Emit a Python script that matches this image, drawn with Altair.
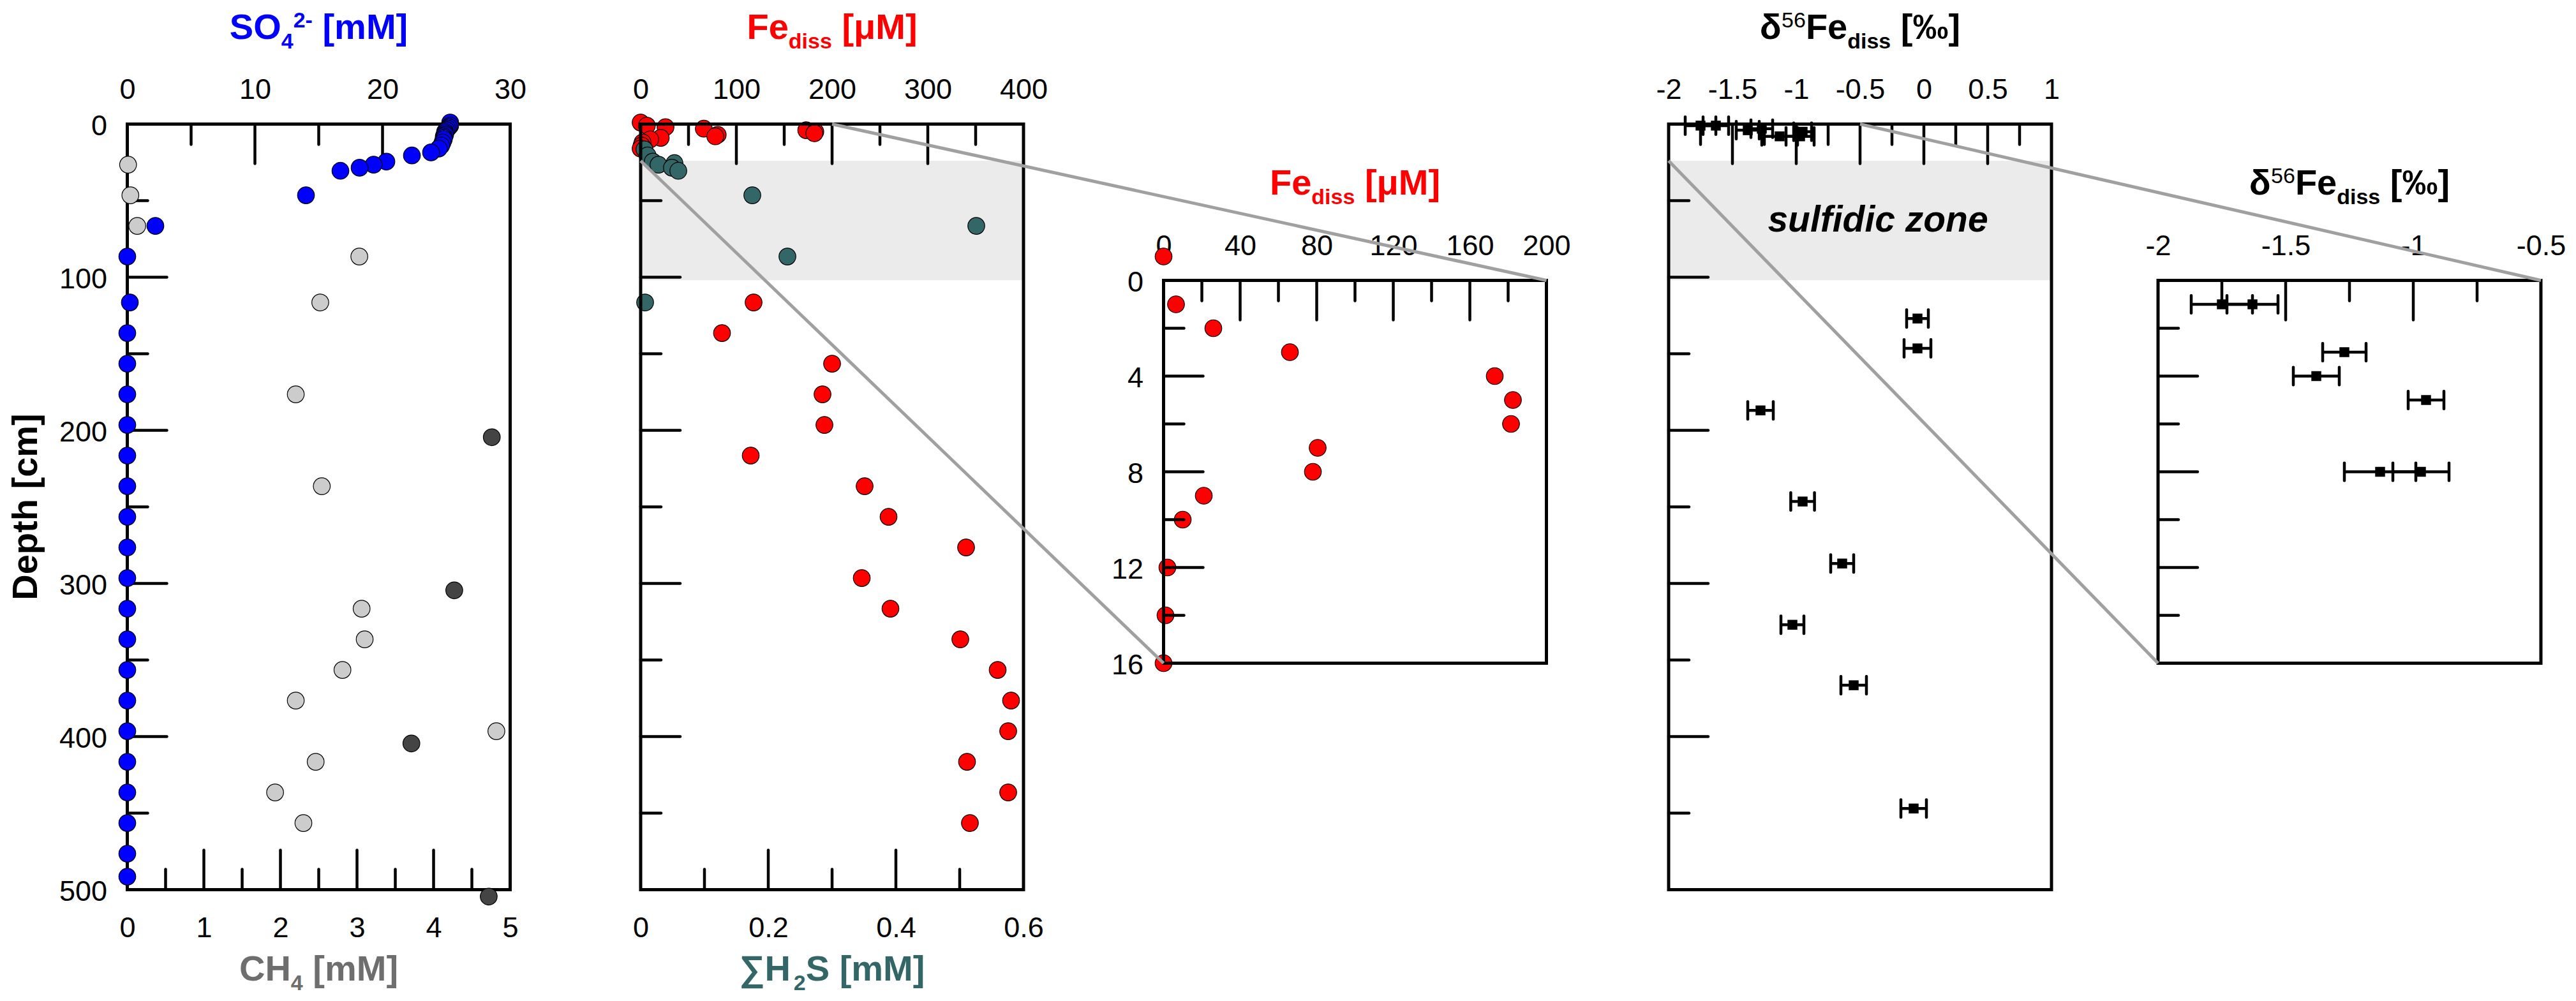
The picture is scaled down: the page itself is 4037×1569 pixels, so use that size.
import altair as alt
import pandas as pd

# ---------------- data ----------------
# Panel 1: sulfate [mM] and methane [mM] vs depth [cm]
so4_depth = [-1, 1, 2, 3, 4, 5, 6, 7, 8, 9, 10, 12, 14, 16,
             18.5, 20.5, 24.5, 26.5, 28.5, 30.5, 46.5, 66.5, 86.5,
             116.5, 136.5, 156.5, 176.5, 196.5, 216.5, 236.5, 256.5, 276.5,
             296.5, 316.5, 336.5, 356.5, 376.5, 396.5, 416.5, 436.5, 456.5,
             476.5, 491.5]
so4_mM = [25.3, 25.3, 25.2, 25.1, 25.0, 24.9, 24.9, 24.9, 24.8, 24.8, 24.8, 24.7, 24.6, 24.4,
          23.8, 22.3, 20.3, 19.3, 18.2, 16.7, 14.0, 2.2, 0.0,
          0.2, 0.0, 0.0, 0.0, 0.0, 0.0, 0.0, 0.0, 0.0,
          0.0, 0.0, 0.0, 0.0, 0.0, 0.0, 0.0, 0.0, 0.0,
          0.0, 0.0]
ch4_depth = [26.5, 46.5, 66.5, 86.5, 116.5, 176.5, 236.5, 316.5, 336.5, 356.5,
             376.5, 396.5, 416.5, 436.5, 456.5]
ch4_mM = [0.01, 0.04, 0.13, 3.03, 2.52, 2.20, 2.54, 3.06, 3.10, 2.81,
          2.20, 4.82, 2.46, 1.93, 2.30]
ch4b_depth = [204.5, 304.5, 404.5, 504.5]
ch4b_mM = [4.76, 4.27, 3.71, 4.72]

# Panel 2/3: dissolved Fe [uM] and sulfide [mM]
fe_depth = [-1, 1, 2, 3, 4, 5, 6, 7, 8, 9, 10, 12, 14, 16,
            116.5, 136.5, 156.5, 176.5, 196.5, 216.5, 236.5, 256.5, 276.5,
            296.5, 316.5, 336.5, 356.5, 376.5, 396.5, 416.5, 436.5, 456.5]
fe_uM = [0, 6.5, 26, 66, 173, 182.5, 181.5, 80.5, 78, 21, 10, 2, 1, 0,
         118, 85, 200, 190, 192, 115, 234, 259, 340,
         231, 261, 334, 373, 387, 384, 341, 384, 344]
h2s_depth = [16.5, 20.5, 24.5, 25.5, 26.5, 28.5, 30.5, 46.5, 66.5, 86.5, 116.5]
h2s_mM = [0.006, 0.011, 0.019, 0.053, 0.028, 0.049, 0.059, 0.175, 0.526, 0.230, 0.007]

# Panel 4/5: d56Fe of dissolved Fe [permil] with 2SD
d56_depth = [1, 1, 3, 4, 5, 8, 8, 127, 146.5, 187, 246.5, 287, 327, 366.5, 447]
d56_val = [-1.75, -1.63, -1.27, -1.38, -0.95, -1.13, -0.97,
           -0.05, -0.05, -1.28, -0.95, -0.64, -1.03, -0.55, -0.08]
d56_err = [0.12, 0.10, 0.085, 0.09, 0.07, 0.14, 0.11,
           0.085, 0.105, 0.10, 0.093, 0.09, 0.09, 0.10, 0.10]

zone_top = [24]
zone_bottom = [102]

# axis labels and tick values
depth_labels = [0, 100, 200, 300, 400, 500]
depth_major = [100, 200, 300, 400]
depth_minor = [50, 150, 250, 350, 450]
so4_labels = [0, 10, 20, 30]
so4_major = [10, 20]
so4_minor = [5, 15, 25]
ch4_labels = [0, 1, 2, 3, 4, 5]
ch4_major = [1, 2, 3, 4]
ch4_minor = [0.5, 1.5, 2.5, 3.5, 4.5]
fe_labels = [0, 100, 200, 300, 400]
fe_major = [100, 200, 300]
fe_minor = [50, 150, 250, 350]
h2s_labels = [0, 0.2, 0.4, 0.6]
h2s_major = [0.2, 0.4]
h2s_minor = [0.1, 0.3, 0.5]
zfe_labels = [0, 40, 80, 120, 160, 200]
zfe_major = [40, 80, 120, 160]
zfe_minor = [20, 60, 100, 140, 180]
zdepth_labels = [0, 4, 8, 12, 16]
zdepth_major = [4, 8, 12]
zdepth_minor = [2, 6, 10, 14]
d56_labels = [-2, -1.5, -1, -0.5, 0, 0.5, 1]
d56_major = [-1.5, -1, -0.5, 0, 0.5]
d56_minor = [-1.75, -1.25, -0.75, -0.25, 0.25, 0.75]
zd56_labels = [-2, -1.5, -1, -0.5]
zd56_major = [-1.5, -1]
zd56_minor = [-1.75, -1.25, -0.75]

DEPTH = [0, 500]
ZDEPTH = [0, 16]
SO4 = [0, 30]
CH4 = [0, 5]
FE = [0, 400]
H2S = [0, 0.6]
ZFE = [0, 200]
D56 = [-2, 1]
ZD56 = [-2, -0.5]

so4_df = pd.DataFrame({"depth": so4_depth, "v": so4_mM})
ch4_df = pd.DataFrame({"depth": ch4_depth, "v": ch4_mM})
ch4b_df = pd.DataFrame({"depth": ch4b_depth, "v": ch4b_mM})
fe_df = pd.DataFrame({"depth": fe_depth, "v": fe_uM})
h2s_df = pd.DataFrame({"depth": h2s_depth, "v": h2s_mM})
d56_df = pd.DataFrame({"depth": d56_depth, "val": d56_val, "err": d56_err})
zone_df = pd.DataFrame({"top": zone_top, "bottom": zone_bottom})
ONE = pd.DataFrame({"k": [0]})

# ---------------- layout ----------------
M = 8
W, H = 4037 - 2 * M, 1569 - 2 * M
FONT = "Liberation Sans"
FW = 5
TW = 4.5
MAJ, MIN = 62, 32
LFS = 45
PT = 700

PAN = {  # page pixel box of each plot area: x0, x1, y0, y1
    "p1": (199.5, 799.5, 194.5, 1394.5),
    "p2": (1004, 1604, 194.5, 1394.5),
    "p3": (1823.5, 2423.5, 439.5, 1039.5),
    "p4": (2615, 3215, 194.5, 1394.5),
    "p5": (3382, 3982, 439.5, 1039.5),
}


def box(p):
    x0, x1, y0, y1 = PAN[p]
    return x0 - M, x1 - M, y0 - M, y1 - M


def lin(v, dom, rng):
    return rng[0] + (v - dom[0]) / (dom[1] - dom[0]) * (rng[1] - rng[0])


def xscale(p, dom):
    x0, x1, _, _ = box(p)
    return alt.Scale(domain=dom, range=[x0, x1], nice=False, zero=False)


def yscale(p, dom):
    _, _, y0, y1 = box(p)
    return alt.Scale(domain=dom, range=[y0, y1], nice=False, zero=False)


def lab_axis(p, orient, values, pad):
    x0, x1, y0, y1 = box(p)
    off = {"top": -y0, "bottom": y1 - H, "left": -x0, "right": x1 - W}[orient]
    kw = dict(orient=orient, offset=off, values=values, ticks=False, domain=False,
              grid=False, labelFont=FONT, labelFontSize=LFS, labelColor="black",
              labelPadding=pad, labelFlush=False, labelOverlap=False,
              labelExpr="'' + datum.value", title=None)
    if orient in ("left", "right"):
        kw["labelOffset"] = 3
    return alt.Axis(**kw)


def tick_rules(p, side, dom, vals, length):
    x0, x1, y0, y1 = box(p)
    base = alt.Chart(pd.DataFrame({"v": vals})).mark_rule(
        color="black", strokeWidth=TW, strokeCap="round")
    if side == "left":
        return base.encode(y=alt.Y("v:Q", scale=yscale(p, dom), axis=None),
                           x=alt.value(x0), x2=alt.value(x0 + length))
    if side == "top":
        return base.encode(x=alt.X("v:Q", scale=xscale(p, dom), axis=None),
                           y=alt.value(y0), y2=alt.value(y0 + length))
    return base.encode(x=alt.X("v:Q", scale=xscale(p, dom), axis=None),
                       y=alt.value(y1 - length), y2=alt.value(y1))


def frame(p):
    x0, x1, y0, y1 = box(p)
    return alt.Chart(ONE).mark_rect(fill="transparent", stroke="black", strokeWidth=FW).encode(
        x=alt.value(x0), x2=alt.value(x1), y=alt.value(y0), y2=alt.value(y1))


def zone(p):
    x0, x1, _, _ = box(p)
    return alt.Chart(zone_df).mark_rect(fill="#EBEBEB", opacity=1).encode(
        y=alt.Y("top:Q", scale=yscale(p, DEPTH), axis=None),
        y2="bottom:Q", x=alt.value(x0), x2=alt.value(x1))


def dots(df, p, xdom, ydom, fill, xaxis=None, yaxis=None, maxdepth=None):
    c = alt.Chart(df)
    if maxdepth is not None:
        c = c.transform_filter(alt.datum.depth <= maxdepth)
    return c.mark_circle(size=PT, fill=fill, stroke="black", strokeWidth=1.2, opacity=1).encode(
        x=alt.X("v:Q", scale=xscale(p, xdom), axis=xaxis),
        y=alt.Y("depth:Q", scale=yscale(p, ydom), axis=yaxis))


def errbars(p, xdom, ydom, xaxis, maxdepth=None):
    c = alt.Chart(d56_df)
    if maxdepth is not None:
        c = c.transform_filter(alt.datum.depth <= maxdepth)
    c = c.transform_calculate(lo="datum.val - datum.err", hi="datum.val + datum.err")
    out = []
    out.append(c.mark_rule(color="black", strokeWidth=TW).encode(
        x=alt.X("lo:Q", scale=xscale(p, xdom), axis=None), x2="hi:Q",
        y=alt.Y("depth:Q", scale=yscale(p, ydom), axis=None)))
    for f in ("lo", "hi"):
        out.append(c.mark_tick(orient="vertical", size=32, thickness=TW, color="black",
                               opacity=1, cornerRadius=2).encode(
            x=alt.X(f + ":Q", scale=xscale(p, xdom), axis=None),
            y=alt.Y("depth:Q", scale=yscale(p, ydom), axis=None)))
    out.append(c.mark_square(size=240, color="black", opacity=1).encode(
        x=alt.X("val:Q", scale=xscale(p, xdom), axis=xaxis),
        y=alt.Y("depth:Q", scale=yscale(p, ydom), axis=None)))
    return out


BOLD_W = {" ": 278, "[": 333, "]": 333, "-": 333, "S": 667, "O": 778, "C": 722,
          "H": 722, "F": 611, "M": 833, "e": 556, "d": 611, "i": 278, "s": 556,
          "m": 889, "\u03bc": 611, "\u03b4": 611, "\u2030": 1000, "\u2211": 800}
REG_W = {" ": 278}


def text_layer(txt, x, y, size, color, weight="bold", align="left", style="normal", angle=0):
    return alt.Chart(ONE).mark_text(
        text=txt, font=FONT, fontSize=size, fontWeight=weight, fontStyle=style,
        color=color, align=align, baseline="alphabetic", angle=angle).encode(
        x=alt.value(x - M), y=alt.value(y - M))


def rich(pieces, cx, base, color):
    items = []
    for t, r in pieces:
        fs = 56 if r == "m" else 34
        tab = REG_W if r == "supr" else BOLD_W
        core = t.lstrip(" ")
        lead = (len(t) - len(core)) * 278 / 1000 * fs
        cw = sum(tab.get(ch, 556) for ch in core) / 1000 * fs
        items.append((core, r, fs, lead, cw))
    total = sum(i[3] + i[4] for i in items)
    x = cx - total / 2
    out = []
    for core, r, fs, lead, cw in items:
        x += lead
        dy = {"m": 0, "sub": 15, "sup": -18, "supr": -18}[r]
        out.append(text_layer(core, x, base + dy, fs, color,
                              weight="normal" if r == "supr" else "bold"))
        x += cw
    return out


layers = []

# zones
layers += [zone("p2"), zone("p4")]

# ---- panel 1 ----
layers += [frame("p1"),
           tick_rules("p1", "left", DEPTH, depth_major, MAJ),
           tick_rules("p1", "left", DEPTH, depth_minor, MIN),
           tick_rules("p1", "top", SO4, so4_major, MAJ),
           tick_rules("p1", "top", SO4, so4_minor, MIN),
           tick_rules("p1", "bottom", CH4, ch4_major, MAJ),
           tick_rules("p1", "bottom", CH4, ch4_minor, MIN)]
layers.append(dots(ch4_df, "p1", CH4, DEPTH, "#CCCCCC",
                   xaxis=lab_axis("p1", "bottom", ch4_labels, 38)))
layers.append(dots(ch4b_df, "p1", CH4, DEPTH, "#444444"))
layers.append(dots(so4_df, "p1", SO4, DEPTH, "#0000FF",
                   xaxis=lab_axis("p1", "top", so4_labels, 31),
                   yaxis=lab_axis("p1", "left", depth_labels, 32)))

# ---- panel 2 ----
layers.append(dots(fe_df, "p2", FE, DEPTH, "#FF0000",
                   xaxis=lab_axis("p2", "top", fe_labels, 31)))
layers.append(dots(h2s_df, "p2", H2S, DEPTH, "#336666",
                   xaxis=lab_axis("p2", "bottom", h2s_labels, 38)))
layers += [frame("p2"),
           tick_rules("p2", "left", DEPTH, depth_major, MAJ),
           tick_rules("p2", "left", DEPTH, depth_minor, MIN),
           tick_rules("p2", "top", FE, fe_major, MAJ),
           tick_rules("p2", "top", FE, fe_minor, MIN),
           tick_rules("p2", "bottom", H2S, h2s_major, MAJ),
           tick_rules("p2", "bottom", H2S, h2s_minor, MIN)]

# ---- panel 3 (zoom of Fe, 0-16 cm) ----
layers.append(dots(fe_df, "p3", ZFE, ZDEPTH, "#FF0000",
                   xaxis=lab_axis("p3", "top", zfe_labels, 31),
                   yaxis=lab_axis("p3", "left", zdepth_labels, 32), maxdepth=16))
layers += [frame("p3"),
           tick_rules("p3", "left", ZDEPTH, zdepth_major, MAJ),
           tick_rules("p3", "left", ZDEPTH, zdepth_minor, MIN),
           tick_rules("p3", "top", ZFE, zfe_major, MAJ),
           tick_rules("p3", "top", ZFE, zfe_minor, MIN)]

# ---- panel 4 ----
layers += [frame("p4"),
           tick_rules("p4", "left", DEPTH, depth_major, MAJ),
           tick_rules("p4", "left", DEPTH, depth_minor, MIN),
           tick_rules("p4", "top", D56, d56_major, MAJ),
           tick_rules("p4", "top", D56, d56_minor, MIN)]
layers += errbars("p4", D56, DEPTH, lab_axis("p4", "top", d56_labels, 31))

# ---- panel 5 (zoom of d56Fe, 0-16 cm) ----
layers += [frame("p5"),
           tick_rules("p5", "left", ZDEPTH, zdepth_major, MAJ),
           tick_rules("p5", "left", ZDEPTH, zdepth_minor, MIN),
           tick_rules("p5", "top", ZD56, zd56_major, MAJ),
           tick_rules("p5", "top", ZD56, zd56_minor, MIN)]
layers += errbars("p5", ZD56, ZDEPTH, lab_axis("p5", "top", zd56_labels, 31), maxdepth=16)

# ---- connector lines (from the main panels to their zooms) ----
def connector(pa, xa, ya, pb, xb, yb):
    return alt.Chart(ONE).mark_rule(color="#A0A0A0", strokeWidth=5).encode(
        x=alt.value(xa), y=alt.value(ya), x2=alt.value(xb), y2=alt.value(yb))

b2, b3, b4, b5 = box("p2"), box("p3"), box("p4"), box("p5")
layers.append(connector("p2", lin(ZFE[1], FE, b2[:2]), b2[2], "p3", b3[1], b3[2]))
layers.append(connector("p2", b2[0], lin(zone_top[0], DEPTH, b2[2:]), "p3", b3[0], b3[3]))
layers.append(connector("p4", lin(ZD56[1], D56, b4[:2]), b4[2], "p5", b5[1], b5[2]))
layers.append(connector("p4", b4[0], lin(zone_top[0], DEPTH, b4[2:]), "p5", b5[0], b5[3]))

# ---- titles ----
layers += rich([("SO", "m"), ("4", "sub"), ("2-", "sup"), (" [mM]", "m")], 499.5, 61, "#0000FF")
layers += rich([("CH", "m"), ("4", "sub"), (" [mM]", "m")], 499.5, 1537, "#6E6E6E")
layers += rich([("Fe", "m"), ("diss", "sub"), (" [\u03bcM]", "m")], 1304, 61, "#FF0000")
layers += rich([("\u2211H", "m"), ("2", "sub"), ("S [mM]", "m")], 1304, 1537, "#336666")
layers += rich([("Fe", "m"), ("diss", "sub"), (" [\u03bcM]", "m")], 2123.5, 305, "#FF0000")
layers += rich([("\u03b4", "m"), ("56", "supr"), ("Fe", "m"), ("diss", "sub"), (" [\u2030]", "m")],
               2915, 61, "black")
layers += rich([("\u03b4", "m"), ("56", "supr"), ("Fe", "m"), ("diss", "sub"), (" [\u2030]", "m")],
               3682, 305, "black")
layers.append(text_layer("Depth [cm]", 58, 794.5, 56, "black", align="center", angle=270))
layers.append(text_layer("sulfidic zone", 2943, 363, 57, "black", align="center", style="italic"))

chart = alt.layer(*layers).resolve_scale(
    x="independent", y="independent").resolve_axis(
    x="independent", y="independent").properties(
    width=W, height=H, autosize=alt.AutoSizeParams(type="none"), padding=0
).configure_view(strokeWidth=0)

chart.save("out.html", embed_options={"renderer": "svg", "actions": False})
